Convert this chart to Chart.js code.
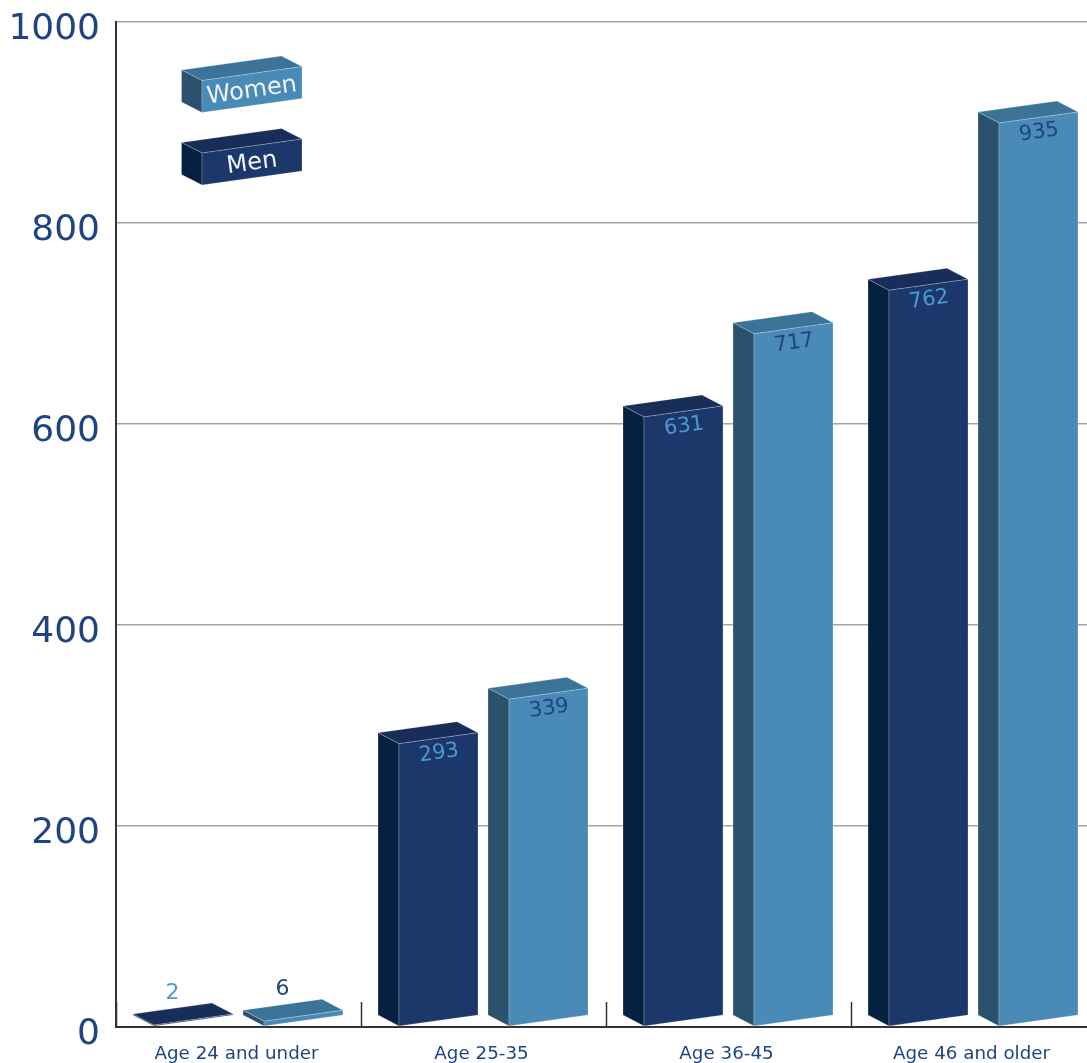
<!DOCTYPE html>
<html>
<head>
<meta charset="utf-8">
<title>Age groups</title>
<script src="https://cdn.jsdelivr.net/npm/chart.js@4"></script>
<style>
    html, body { margin: 0; padding: 0; background: #fff; overflow: hidden; }
    canvas { display: block; }
</style>
</head>
<body>
<canvas id="grafico" width="1096" height="1063"></canvas>
<script>
const categorias = ['Age 24 and under', 'Age 25-35', 'Age 36-45', 'Age 46 and older'];
const valoresMen = [2, 293, 631, 762];
const valoresWomen = [6, 339, 717, 935];
const ticksY = [0, 200, 400, 600, 800, 1000];

const FONTE = '"DejaVu Sans", Verdana, sans-serif';
const COR_TEXTO = '#1f4480';
const COR_ROTULO_CLARO = '#4c9ad2';

// cores das faces de cada caixa
const coresMen = { frente: '#1c3769', lado: '#05213f', topo: '#192d5a', rotulo: COR_ROTULO_CLARO };
const coresWomen = { frente: '#4a8ab7', lado: '#2b526d', topo: '#3b7399', rotulo: COR_TEXTO };

// projecao das caixas
const PROF_X = 21, PROF_Y = 11, INCLINACAO = 11 / 79;
const DESVIO_BARRAS = 10;

function face(ctx, pontos, cor) {
    ctx.beginPath();
    pontos.forEach((p, i) => i ? ctx.lineTo(p[0], p[1]) : ctx.moveTo(p[0], p[1]));
    ctx.closePath();
    ctx.fillStyle = cor;
    ctx.fill();
    ctx.strokeStyle = 'rgba(255, 255, 255, 0.22)';
    ctx.lineWidth = 1;
    ctx.stroke();
}

// desenha uma caixa: x/y = canto inferior esquerdo da frente
function caixa(ctx, x, yBase, yTopo, largura, cores, profX, profY) {
    const sobe = largura * INCLINACAO;
    face(ctx, [[x, yTopo], [x - profX, yTopo - profY], [x - profX + largura, yTopo - profY - sobe], [x + largura, yTopo - sobe]], cores.topo);
    face(ctx, [[x, yBase], [x - profX, yBase - profY], [x - profX, yTopo - profY], [x, yTopo]], cores.lado);
    face(ctx, [[x, yBase], [x + largura, yBase - sobe], [x + largura, yTopo - sobe], [x, yTopo]], cores.frente);
}

function textoInclinado(ctx, texto, x, y, cor, tamanho) {
    ctx.save();
    ctx.translate(x, y);
    ctx.rotate(-Math.atan(INCLINACAO));
    ctx.font = tamanho + 'px ' + FONTE;
    ctx.fillStyle = cor;
    ctx.textAlign = 'center';
    ctx.textBaseline = 'middle';
    ctx.fillText(texto, 0, 0);
    ctx.restore();
}

const pluginCaixas = {
    id: 'caixas',
    beforeDatasetDraw(chart, args) {
        const ctx = chart.ctx;
        const ds = chart.data.datasets[args.index];
        args.meta.data.forEach((el, i) => {
            const x = el.x + DESVIO_BARRAS - el.width / 2;
            // a caixa fica 1px acima do eixo
            caixa(ctx, x, el.base - 1, el.y, el.width, ds.cores, PROF_X, PROF_Y);
            const cx = x + el.width / 2;
            const cy = el.y - el.width * INCLINACAO / 2;
            const valor = ds.data[i];
            if (valor < 50) {
                // barras muito baixas: rotulo fora da caixa
                ctx.font = '22px ' + FONTE;
                ctx.fillStyle = ds.cores.rotulo;
                ctx.textAlign = 'center';
                ctx.textBaseline = 'middle';
                ctx.fillText(valor, cx - PROF_X, cy - 26);
            } else {
                textoInclinado(ctx, valor, cx + 0.5, cy + 15, ds.cores.rotulo, 21);
            }
        });
        return false;
    },
    afterDraw(chart) {
        const ctx = chart.ctx;
        const { x: escalaX, y: escalaY } = chart.scales;

        // rotulos do eixo Y, um pouco abaixo das linhas
        ctx.save();
        ctx.font = '36px ' + FONTE;
        ctx.fillStyle = COR_TEXTO;
        ctx.textAlign = 'right';
        ctx.textBaseline = 'middle';
        escalaY.ticks.forEach(t => {
            ctx.fillText(t.value, 100, escalaY.getPixelForValue(t.value) + 8);
        });

        // separadores das categorias
        const passo = escalaX.width / categorias.length;
        ctx.strokeStyle = '#333';
        ctx.lineWidth = 1.5;
        categorias.forEach((_, i) => {
            const x = Math.round(escalaX.left + passo * i);
            ctx.beginPath();
            ctx.moveTo(x + 0.5, escalaX.top - 25);
            ctx.lineTo(x + 0.5, escalaX.top);
            ctx.stroke();
        });
        ctx.restore();

        // legenda
        chart.data.datasets.forEach(ds => {
            const p = ds.legenda;
            caixa(ctx, 202, p.base, p.base - 32, 100, ds.cores, 20.5, 10.5);
            textoInclinado(ctx, ds.label, 252, p.base - 21.5, '#eef4f8', 24);
        });
    }
};

new Chart(document.getElementById('grafico'), {
    type: 'bar',
    data: {
        labels: categorias,
        datasets: [
            { label: 'Men', data: valoresMen, backgroundColor: coresMen.frente, cores: coresMen, legenda: { base: 185 }, yAxisID: 'yBarras', categoryPercentage: 0.898, barPercentage: 0.718 },
            { label: 'Women', data: valoresWomen, backgroundColor: coresWomen.frente, cores: coresWomen, legenda: { base: 112.5 }, yAxisID: 'yBarras', categoryPercentage: 0.898, barPercentage: 0.718 }
        ]
    },
    options: {
        responsive: false,
        animation: false,
        layout: { padding: { top: 21.5, right: 0, left: 0, bottom: 0 } },
        plugins: { legend: { display: false }, tooltip: { enabled: false } },
        scales: {
            x: {
                grid: { display: false },
                border: { color: '#333', width: 2 },
                ticks: {
                    color: COR_TEXTO,
                    font: { family: FONTE, size: 18.3 },
                    padding: 8,
                    labelOffset: -2,
                    maxRotation: 0,
                    autoSkip: false
                },
                afterFit(escala) { escala.height = 36; }
            },
            y: {
                min: 0,
                max: 1000,
                afterBuildTicks(escala) { escala.ticks = ticksY.map(v => ({ value: v })); },
                grid: { color: '#a3a3a3', lineWidth: 1.5, drawTicks: false },
                border: { color: '#333', width: 2 },
                ticks: { display: false },
                afterFit(escala) { escala.width = 116; }
            },
            // as caixas sobem um pouco menos que a grade
            yBarras: { display: false, min: 0, max: 1040 }
        }
    },
    plugins: [pluginCaixas]
});
</script>
</body>
</html>
